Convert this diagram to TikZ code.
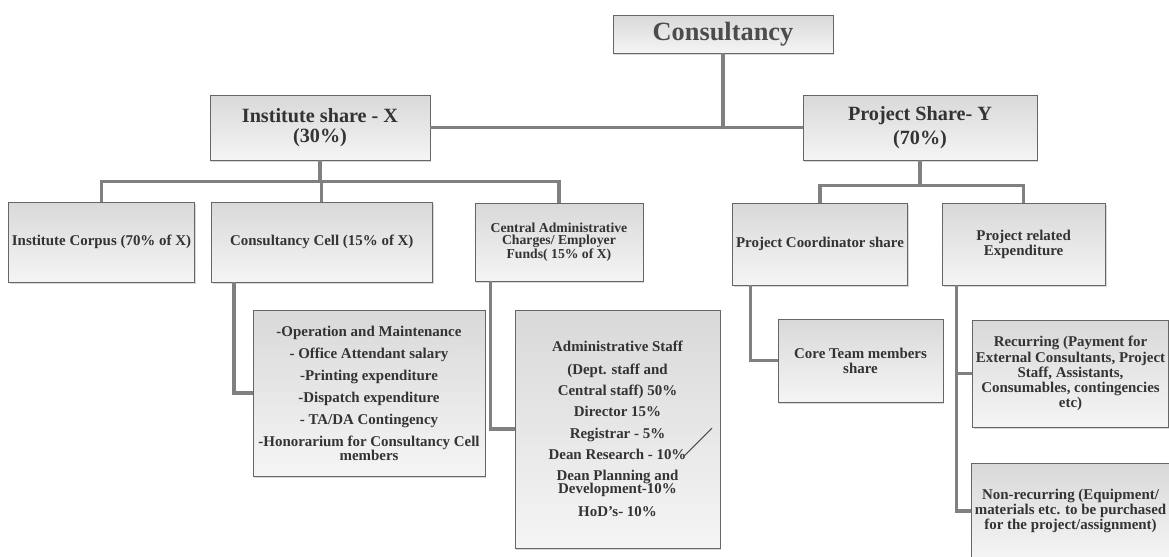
\documentclass[tikz,border=0pt]{standalone}
\usepackage{fontspec}
\setmainfont{Liberation Serif}
\usepackage{tikz}
\usetikzlibrary{positioning, calc, shadows}

\begin{document}
\begin{tikzpicture}[
    x=0.02cm, y=-0.02cm,
    block/.style={rectangle, draw=black!60, top color=gray!30, bottom color=gray!8,
                  drop shadow={shadow xshift=0.8pt, shadow yshift=-1.2pt, opacity=0.3},
                  text=black!80, align=center, inner sep=2pt,
                  font=\fontsize{8.5}{8.6}\selectfont\bfseries},
    head/.style={block, font=\fontsize{11.5}{11}\selectfont\bfseries},
    small/.style={block, font=\fontsize{7.8}{6.9}\selectfont\bfseries},
    link/.style={draw=black!50, line width=1.9pt},
]
\useasboundingbox (0,0) rectangle (1169,556);
\fill[white] (0,0) rectangle (1169,556);
\clip (0,0) rectangle (1169,556);

\node[head, minimum width=4.4cm, minimum height=0.76cm, text=black!70,
      font=\fontsize{15}{15}\selectfont\bfseries] (consult) at (723,34) {Consultancy};
\node[head, minimum width=4.4cm, minimum height=1.3cm] (inst) at (320,127.5) {Institute share - X\\(30\%)};
\node[head, minimum width=4.68cm, minimum height=1.3cm,
      font=\fontsize{11.5}{14}\selectfont\bfseries] (proj) at (920,127.5) {Project Share- Y\\(70\%)};

\node[block, minimum width=3.66cm, minimum height=1.6cm] (corpus) at (101.5,242) {Institute Corpus (70\% of X)};
\node[block, minimum width=4.42cm, minimum height=1.6cm, right=0.32cm of corpus] (cell) {Consultancy Cell (15\% of X)};
\node[small, minimum width=3.36cm, minimum height=1.56cm, right=0.84cm of cell] (central)
    {Central Administrative\\Charges/ Employer\\Funds( 15\% of X)};

\node[block, minimum width=3.32cm, minimum height=1.64cm] (coord) at (820,244) {Project Coordinator share};
\node[block, minimum width=3.26cm, minimum height=1.64cm, right=0.68cm of coord] (expend) {Project related\\Expenditure};

\node[block, minimum width=4.64cm, minimum height=3.32cm] (ops) at (369,393)
    {-Operation and Maintenance\\[3.9pt]
     - Office Attendant salary\\[3.9pt]
     -Printing expenditure\\[3.9pt]
     -Dispatch expenditure\\[3.9pt]
     - TA/DA Contingency\\[3.9pt]
     -Honorarium for Consultancy Cell\\[-0.6pt]
     members};
\node[block, minimum width=4.1cm, minimum height=4.76cm] (admin) at (617.5,429)
    {Administrative Staff\\[4.2pt]
     (Dept. staff and\\[3.6pt]
     Central staff) 50\%\\[3.2pt]
     Director 15\%\\[3.6pt]
     Registrar - 5\%\\[3.6pt]
     Dean Research - 10\%\\[3.6pt]
     Dean Planning and\\[-1.2pt]
     Development-10\%\\[4.2pt]
     HoD's- 10\%};

\node[block, minimum width=3.3cm, minimum height=1.66cm] (core) at (860.5,360.5) {Core Team members\\share};
\node[block, minimum width=3.78cm, minimum height=2.14cm] (recur) at (1070.5,373.5)
    {Recurring (Payment for\\External Consultants, Project\\Staff, Assistants,\\Consumables, contingencies\\etc)};
\node[block, minimum width=3.78cm, minimum height=1.92cm] (nonrec) at (1070.5,511)
    {Non-recurring (Equipment/\\materials etc. to be purchased\\for the project/assignment)};

\draw[link] (inst.east) -- (proj.west);
\draw[link] (consult.south) -- (consult.south |- inst.east);
\foreach \n in {corpus, cell, central}
    \draw[link] (inst.south) -- ++(0,21) -| (\n.north);
\foreach \n in {coord, expend}
    \draw[link] (proj.south) -- ++(0,25) -| (\n.north);
\draw[link] ([xshift=0.46cm]cell.south west) |- (ops.west);
\draw[link] ([xshift=0.32cm]central.south west) |- (admin.west);
\draw[link] ([xshift=0.36cm]coord.south west) |- (core.west);
\foreach \n in {recur, nonrec}
    \draw[link] ([xshift=0.3cm]expend.south west) |- (\n.west);

\draw[black!70, line width=0.6pt] (683,457) -- (712,428);

\end{tikzpicture}
\end{document}
